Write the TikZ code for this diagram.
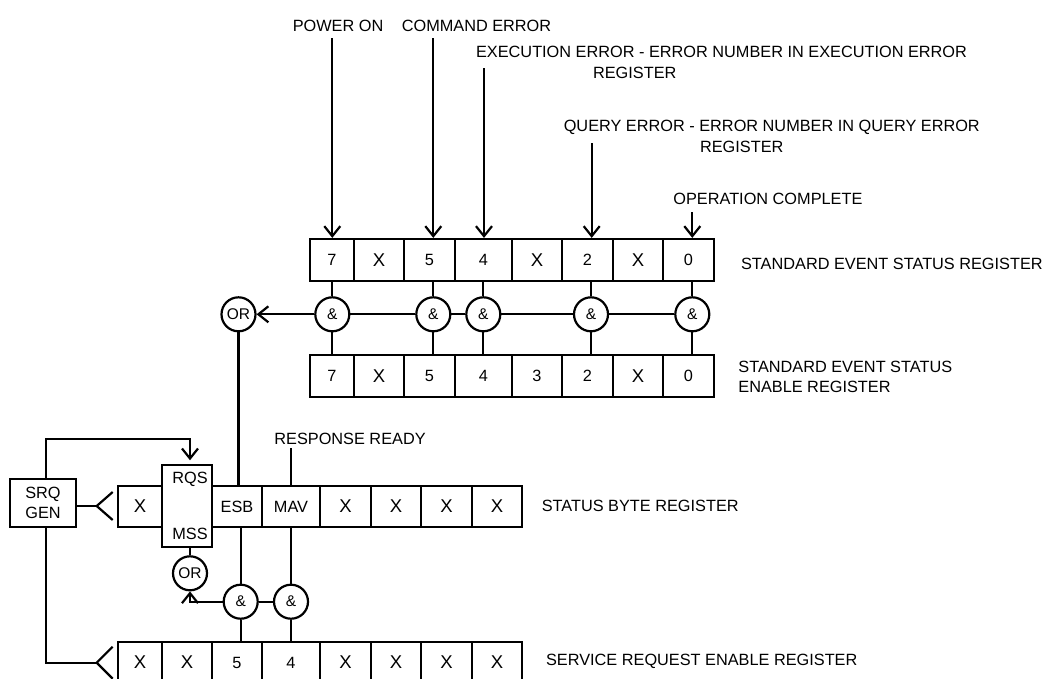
\documentclass[tikz,border=0pt]{standalone}
\usepackage{fontspec}
\setmainfont{Liberation Sans}
\usetikzlibrary{arrows.meta,calc}
\newcommand\cx{{\fontsize{18.5}{18.5}\selectfont X}}
\begin{document}
\begin{tikzpicture}[x=1pt,y=-1pt, line width=2.2pt,
  every node/.style={font=\fontsize{16.3}{19}\selectfont, inner sep=0pt},
  cell/.style={draw, rectangle, minimum height=42pt},
  scell/.style={draw, rectangle, minimum height=41pt},
  gate/.style={draw, circle, minimum size=34pt, font=\fontsize{15.5}{15.5}\selectfont},
  lbl/.style={anchor=west, text height=11.5pt, text depth=0pt},
  arr/.style={-{Straight Barb[length=10pt,width=16pt]}}]
\clip (0,0) rectangle (1047,678);

% standard event status register
\foreach \l/\r/\t [count=\i] in {310/354/7,354/404/\cx,404/455/5,455/512/4,512/562/\cx,562/613/2,613/663/\cx,663/714/0}
  \node[cell,minimum width={(\r-\l)*1pt}] (t\i) at ({(\l+\r)/2},260) {\t};
% standard event status enable register
\foreach \l/\r/\t [count=\i] in {310/354/7,354/404/\cx,404/455/5,455/512/4,512/562/3,562/613/2,613/663/\cx,663/714/0}
  \node[cell,minimum width={(\r-\l)*1pt}] (e\i) at ({(\l+\r)/2},376) {\t};
% status byte register
\foreach \l/\r/\t/\i in {118/162/\cx/1,212/262/ESB/3,262/320/MAV/4,320/371/\cx/5,371/421/\cx/6,421/472/\cx/7,472/522/\cx/8}
  \node[scell,minimum width={(\r-\l)*1pt}] (b\i) at ({(\l+\r)/2},506.5) {\t};
\node[draw, minimum width=50pt, minimum height=81.4pt] (rqs) at (187,506) {};
\node (trqs) at (190,479.3) {RQS};
\node (tmss) at (190,534.3) {MSS};
% service request enable register
\foreach \l/\r/\t [count=\i] in {118/162/\cx,162/212/\cx,212/262/5,262/320/4,320/371/\cx,371/421/\cx,421/472/\cx,472/522/\cx}
  \node[scell,minimum width={(\r-\l)*1pt}] (r\i) at ({(\l+\r)/2},662.5) {\t};

% gates of the event registers
\node[gate] (a7) at (332.3,314.3) {\&};
\node[gate] (a5) at (433.3,314.3) {\&};
\node[gate] (a4) at (483.3,314.3) {\&};
\node[gate] (a2) at (591,314.3) {\&};
\node[gate] (a0) at (692.3,314.3) {\&};
\node[gate] (or1) at (238.5,314.3) {OR};
\foreach \g in {a7,a5,a4,a2,a0}{
  \draw (\g.north) -- (\g.north |- t1.south);
  \draw (\g.south) -- (\g.south |- e1.north);
}
\draw (a0) -- (a2);
\draw (a2) -- (a4);
\draw (a4) -- (a5);
\draw (a5) -- (a7);
\draw[arr] (a7) -- (or1);
\draw (or1) -- (or1 |- b3.north);

% top labels and arrows
\node[lbl] (lpow) at (291.7,26) {POWER ON};
\node[lbl] (lcmd) at (400.7,26) {COMMAND ERROR};
\node[lbl] (lexe) at (475,51.7) {EXECUTION ERROR - ERROR NUMBER IN EXECUTION ERROR};
\node[lbl] (lexe2) at (592,72.7) {REGISTER};
\node[lbl] (lqry) at (562.7,126) {QUERY ERROR - ERROR NUMBER IN QUERY ERROR};
\node[lbl] (lqry2) at (699,146.7) {REGISTER};
\node[lbl] (lopc) at (672.3,198.3) {OPERATION COMPLETE};
\coordinate (p7) at (332.3,38);
\coordinate (p5) at (433.3,38);
\coordinate (p4) at (484,68);
\coordinate (p2) at (591.7,143);
\coordinate (p0) at (692.3,212);
\foreach \p in {p7,p5,p4,p2,p0}
  \draw[arr] (\p) -- (\p |- t1.north);

% right labels
\node[lbl] (lses) at (740,263.3) {STANDARD EVENT STATUS REGISTER};
\node[lbl] (lsee1) at (737.3,366.7) {STANDARD EVENT STATUS};
\node[lbl] (lsee2) at (737.3,386.7) {ENABLE REGISTER};
\node[lbl] (lsb) at (540.7,506) {STATUS BYTE REGISTER};
\node[lbl] (lsre) at (545,660) {SERVICE REQUEST ENABLE REGISTER};

% response ready
\node[lbl] (lrr) at (273.3,438.3) {RESPONSE READY};
\coordinate (rr) at (291,448);
\draw (rr) -- (rr |- b4.north);

% status byte gates
\node[gate] (gE) at (240.7,601.7) {\&};
\node[gate] (gM) at (291,601.7) {\&};
\node[gate] (or2) at (190,573.3) {OR};
\draw (gE.north) -- (gE.north |- b3.south);
\draw (gE.south) -- (gE.south |- r3.north);
\draw (gM.north) -- (gM.north |- b4.south);
\draw (gM.south) -- (gM.south |- r4.north);
\draw (gE) -- (gM);
\draw[arr] (gE.west) -| (or2.south);
\draw (or2.north) -- (or2.north |- rqs.south);

% SRQ generator
\node[draw, minimum width=66pt, minimum height=48pt, align=center, font=\fontsize{16.3}{20}\selectfont] (srq) at (43,503) {SRQ\\GEN};
\coordinate (f1) at (96.7,506);
\coordinate (f1a) at (112.7,492);
\coordinate (f1b) at (112.7,520);
\draw (srq.east |- f1) -- (f1);
\draw (f1a) -- (f1) -- (f1b);
\coordinate (f2) at (96.7,662.7);
\coordinate (f2a) at (112.7,646.7);
\coordinate (f2b) at (112.7,678.7);
\draw ([xshift=2.7pt]srq.south) |- (f2);
\draw (f2a) -- (f2) -- (f2b);
\coordinate (lp) at (190,438.7);
\coordinate (lpe) at (190,460.3);
\draw[arr] ([xshift=2.7pt]srq.north) |- (lp) -- (lpe);
\end{tikzpicture}
\end{document}
